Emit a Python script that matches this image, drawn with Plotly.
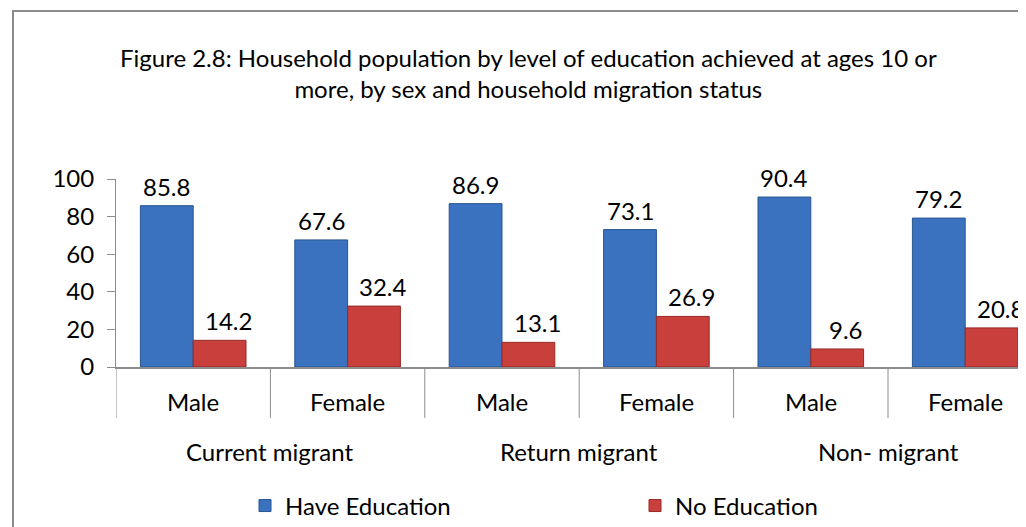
import plotly.graph_objects as go

# ---- data ----
groups = ["Current migrant", "Return migrant", "Non- migrant"]
sexes = ["Male", "Female"]
have_education = [85.8, 67.6, 86.9, 73.1, 90.4, 79.2]
no_education = [14.2, 32.4, 13.1, 26.9, 9.6, 20.8]
series_names = ["Have Education", "No Education"]
y_ticks = [0, 20, 40, 60, 80, 100]
title_text = ("Figure 2.8: Household population by level of education achieved at ages 10 or<br>"
              "more, by sex and household migration status")

# ---- derived category layout ----
inner_labels = [s for g in groups for s in sexes]
xpos = list(range(len(inner_labels)))

FONT = "Lato"
FS = 24
BLUE = "#3A72C0"
BLUE_EDGE = "#27558F"
RED = "#C83F3B"
RED_EDGE = "#962B28"
GRAY = "#8C8C8C"

fig = go.Figure()
fig.add_trace(go.Bar(x=xpos, y=have_education, name=series_names[0],
                     marker=dict(color=BLUE, line=dict(color=BLUE_EDGE, width=1))))
fig.add_trace(go.Bar(x=xpos, y=no_education, name=series_names[1],
                     marker=dict(color=RED, line=dict(color=RED_EDGE, width=1))))

bargap = 0.316
half = (1 - bargap) / 4  # offset of each bar centre from the category centre

annotations = []
# data labels
for i, v in enumerate(have_education):
    annotations.append(dict(x=xpos[i] - half, y=v, xref="x", yref="y", text=f"{v:.1f}",
                            showarrow=False, yanchor="bottom", yshift=3,
                            font=dict(family=FONT, size=FS, color="black")))
for i, v in enumerate(no_education):
    annotations.append(dict(x=xpos[i] + half, y=v, xref="x", yref="y", text=f"{v:.1f}",
                            showarrow=False, yanchor="bottom", yshift=3, xshift=9,
                            font=dict(family=FONT, size=FS, color="black")))
# inner category labels
for i, lab in enumerate(inner_labels):
    annotations.append(dict(x=xpos[i], y=-0.181, xref="x", yref="paper", text=lab,
                            showarrow=False, yanchor="middle",
                            font=dict(family=FONT, size=FS, color="black")))
# outer group labels
n_in = len(sexes)
for gi, g in enumerate(groups):
    centre = sum(xpos[gi * n_in:(gi + 1) * n_in]) / n_in
    annotations.append(dict(x=centre, y=-0.452, xref="x", yref="paper", text=g,
                            showarrow=False, yanchor="middle",
                            font=dict(family=FONT, size=FS, color="black")))
# title
annotations.append(dict(x=0.449, y=1.566, xref="paper", yref="paper", text=title_text,
                        showarrow=False, xanchor="center", yanchor="middle", align="center",
                        font=dict(family=FONT, size=FS, color="black")))

shapes = []
# category dividers
for k in range(len(inner_labels) + 1):
    shapes.append(dict(type="line", xref="x", yref="paper", x0=k - 0.5, x1=k - 0.5,
                       y0=0, y1=-0.271, line=dict(color=GRAY, width=1)))
# chart border
shapes.append(dict(type="rect", xref="paper", yref="paper", x0=-0.1122, x1=1.02,
                   y0=-0.8777, y1=1.8936, line=dict(color=GRAY, width=2), layer="below"))

fig.update_layout(
    width=1026, height=527,
    margin=dict(l=108, r=0, t=171, b=168, pad=0, autoexpand=False),
    paper_bgcolor="white", plot_bgcolor="white",
    barmode="group", bargap=bargap, bargroupgap=0,
    font=dict(family=FONT, size=FS, color="black"),
    xaxis=dict(range=[-0.5, -0.5 + 918 / 154.4], showticklabels=False, ticks="",
               showgrid=False, zeroline=False, showline=True, linecolor=GRAY, linewidth=1.5,
               fixedrange=True),
    yaxis=dict(range=[0, 100], tickvals=y_ticks, ticks="outside", ticklen=8,
               tickcolor=GRAY, tickwidth=1, showgrid=False, zeroline=False,
               showline=True, linecolor=GRAY, linewidth=1, ticklabelstandoff=8,
               tickfont=dict(family=FONT, size=FS, color="black")),
    showlegend=True,
    legend=dict(orientation="h", x=(237 - 108) / 918, xanchor="left", y=-0.739,
                yanchor="middle", entrywidth=345, entrywidthmode="pixels",
                font=dict(family=FONT, size=FS, color="black"),
                bgcolor="rgba(0,0,0,0)", itemwidth=30),
    annotations=annotations,
    shapes=shapes,
)

fig.write_html("out.html")
